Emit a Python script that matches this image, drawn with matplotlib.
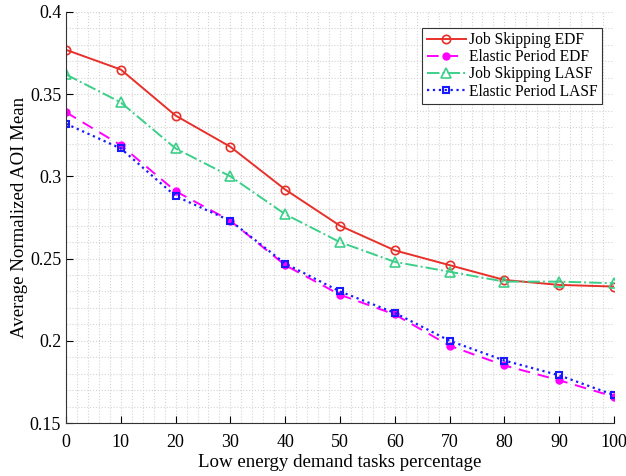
import matplotlib
matplotlib.use('Agg')
import matplotlib.pyplot as plt
from matplotlib.ticker import AutoMinorLocator

plt.rcParams['font.family'] = ['Liberation Serif', 'DejaVu Serif']

percent = [0, 10, 20, 30, 40, 50, 60, 70, 80, 90, 100]
js_edf = [0.377, 0.365, 0.337, 0.318, 0.292, 0.270, 0.255, 0.246, 0.237, 0.234, 0.233]
ep_edf = [0.339, 0.319, 0.291, 0.273, 0.246, 0.228, 0.216, 0.197, 0.185, 0.176, 0.166]
js_lasf = [0.362, 0.345, 0.317, 0.300, 0.277, 0.260, 0.248, 0.242, 0.236, 0.236, 0.235]
ep_lasf = [0.332, 0.317, 0.288, 0.273, 0.247, 0.230, 0.217, 0.200, 0.188, 0.179, 0.167]

fig = plt.figure(figsize=(6.26, 4.76), dpi=100)
ax = fig.add_axes([66/626, 1-423/476, (614-66)/626, (423-12)/476])

ax.plot(percent, js_edf, color='#e8302a', linestyle='-', linewidth=1.4,
        marker='o', markersize=6, markerfacecolor='none', markeredgewidth=1.2,
        label='Job Skipping EDF')
ax.plot(percent, ep_edf, color='#ff00ff', linestyle=(0, (6, 4)), linewidth=1.4,
        marker='o', markersize=5, markerfacecolor='#ff00ff',
        label='Elastic Period EDF')
ax.plot(percent, js_lasf, color='#3ccf8a', linestyle='-.', linewidth=1.4,
        marker='^', markersize=7, markerfacecolor='none', markeredgewidth=1.2,
        label='Job Skipping LASF')
ax.plot(percent, ep_lasf, color='#1a1aff', linestyle=':', linewidth=1.6,
        marker='s', markersize=5, markerfacecolor='none', markeredgewidth=1.5,
        label='Elastic Period LASF')

ax.set_xlim(0, 100)
ax.set_ylim(0.15, 0.4)
ax.set_xticks(percent)
ax.set_yticks([0.15, 0.2, 0.25, 0.3, 0.35, 0.4])
ax.set_yticklabels(['0.15', '0.2', '0.25', '0.3', '0.35', '0.4'])
ax.xaxis.set_minor_locator(AutoMinorLocator(5))
ax.yaxis.set_minor_locator(AutoMinorLocator(5))
ax.grid(which='both', color='#d4d4d4', linestyle=':', linewidth=0.8)
ax.tick_params(which='major', direction='in', labelsize=13, length=5)
ax.tick_params(axis='x', which='major', pad=8)
ax.tick_params(which='minor', length=0)
ax.spines['top'].set_visible(False)
ax.spines['right'].set_visible(False)
for s in ax.spines.values():
    s.set_color('#333333')

ax.set_xlabel('Low energy demand tasks percentage', fontsize=13.6, labelpad=2)
ax.set_ylabel('Average Normalized AOI Mean', fontsize=13.6, labelpad=1)

leg = ax.legend(loc='upper right', bbox_to_anchor=(0.978, 0.962), borderaxespad=0,
                fontsize=11.2, fancybox=False, framealpha=1, edgecolor='#333333',
                handlelength=2.5, borderpad=0.3, labelspacing=0.07, handletextpad=0.2)
leg.get_frame().set_linewidth(0.8)

fig.savefig('out.png', dpi=100)
